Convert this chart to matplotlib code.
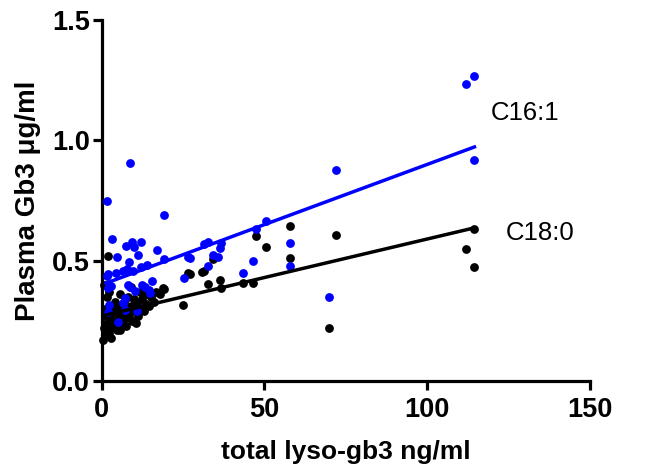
#!/usr/bin/env python3

from __future__ import annotations

import matplotlib

matplotlib.use("Agg")
import matplotlib.pyplot as plt
import numpy as np

# C16:1 (blue) - total lyso-gb3 (ng/ml) vs plasma Gb3 (ug/ml)
c16_x = [
    1.7, 8.7, 19.1, 3.1, 7.4, 9.4, 10.0, 12.1, 17.0, 4.8, 8.5, 11.1, 19.2, 26.4,
    2.0, 4.4, 6.6, 7.7, 9.6, 12.2, 13.8, 1.8, 3.0, 8.2, 8.6, 10.1, 12.5, 13.3,
    14.6, 15.5, 25.2, 2.1, 6.4, 7.1, 7.2, 1.9, 10.9, 5.1, 14.8, 1.7,
    27.1, 31.3, 32.8, 32.5, 34.1, 35.8, 36.2, 36.6, 43.5, 46.6, 47.4, 50.5,
    57.7, 57.7, 69.8, 71.9, 111.9, 114.4, 114.5,
]
c16_y = [
    0.749, 0.907, 0.691, 0.591, 0.561, 0.579, 0.558, 0.576, 0.545, 0.514, 0.493, 0.523, 0.508, 0.514,
    0.443, 0.447, 0.455, 0.464, 0.455, 0.475, 0.480, 0.388, 0.395, 0.400, 0.392, 0.373, 0.399, 0.392,
    0.378, 0.414, 0.430, 0.316, 0.325, 0.344, 0.295, 0.286, 0.292, 0.246, 0.364, 0.436,
    0.512, 0.569, 0.579, 0.478, 0.523, 0.516, 0.551, 0.572, 0.447, 0.500, 0.630, 0.666,
    0.572, 0.478, 0.348, 0.877, 1.233, 1.267, 0.918,
]

# C18:0 (black)
c18_x = [
    111.9, 114.4, 114.5, 71.9, 69.8, 57.7, 57.7, 50.5, 47.4, 46.6, 43.5, 36.6,
    36.2, 34.1, 32.8, 31.3, 30.9, 27.1, 26.5, 25.1, 19.2, 18.9, 2.0, 11.7,
    0.5, 1.0, 1.3, 1.6, 2.0, 2.2, 2.5, 3.0, 3.3, 3.6, 4.0, 4.3, 4.8, 5.2,
    5.6, 6.0, 6.3, 6.8, 7.0, 7.5, 7.8, 8.2, 8.5, 9.0, 9.4, 9.8, 10.3, 10.8,
    11.2, 12.0, 12.5, 13.0, 13.5, 14.0, 14.5, 15.2, 16.0, 16.8, 1.0, 1.5,
    0.8, 2.3, 5.5, 9.0, 17.8, 4.0, 6.5, 10.5, 0.6, 3.0, 1.2,
]
c18_y = [
    0.550, 0.632, 0.475, 0.607, 0.221, 0.644, 0.512, 0.555, 0.602, 0.406, 0.406, 0.385,
    0.420, 0.507, 0.402, 0.457, 0.452, 0.443, 0.447, 0.316, 0.381, 0.385, 0.520, 0.371,
    0.17, 0.19, 0.21, 0.24, 0.26, 0.20, 0.22, 0.28, 0.23, 0.295, 0.25, 0.31, 0.21, 0.27,
    0.21, 0.30, 0.24, 0.33, 0.26, 0.23, 0.29, 0.35, 0.27, 0.31, 0.25, 0.34, 0.29, 0.32,
    0.27, 0.30, 0.34, 0.29, 0.32, 0.36, 0.31, 0.35, 0.33, 0.37, 0.30, 0.35,
    0.40, 0.37, 0.36, 0.39, 0.36, 0.33, 0.28, 0.24, 0.22, 0.18, 0.27,
]

# linear fits as drawn in the figure
fit_x_range = [1.3, 114.5]
c16_slope, c16_intercept = 0.0050, 0.400
c18_slope, c18_intercept = 0.0032, 0.270

x_ticks = [0, 50, 100, 150]
y_ticks = [0.0, 0.5, 1.0, 1.5]
y_tick_labels = ["0.0", "0.5", "1.0", "1.5"]

BLUE = "#0000ff"
BLACK = "#000000"


def main() -> None:
    plt.rcParams["font.family"] = ["Liberation Sans", "DejaVu Sans"]

    fig = plt.figure(figsize=(6.71, 4.72), dpi=100)
    ax = fig.add_axes([0.1516, 0.1928, 0.7277, 0.7648])

    ax.scatter(c18_x, c18_y, s=40, color=BLACK, linewidths=0, zorder=3, clip_on=False)
    ax.scatter(c16_x, c16_y, s=40, color=BLUE, linewidths=0, zorder=3, clip_on=False)

    xs = np.array(fit_x_range)
    ax.plot(xs, c16_intercept + c16_slope * xs, color=BLUE, lw=2.5, zorder=4)
    ax.plot(xs, c18_intercept + c18_slope * xs, color=BLACK, lw=2.5, zorder=4)

    ax.text(119.4, 1.115, "C16:1", fontsize=18.5, va="center", ha="left")
    ax.text(124.0, 0.616, "C18:0", fontsize=18.5, va="center", ha="left")

    ax.set_xlim(0, 150)
    ax.set_ylim(0, 1.5)
    ax.set_xticks(x_ticks)
    ax.set_yticks(y_ticks)
    ax.set_yticklabels(y_tick_labels)

    for side in ("top", "right"):
        ax.spines[side].set_visible(False)
    for side in ("left", "bottom"):
        ax.spines[side].set_linewidth(2.3)

    ax.tick_params(axis="both", direction="out", length=6.5, width=2.3, labelsize=19.5)
    ax.tick_params(axis="x", pad=5)
    ax.tick_params(axis="y", pad=2)
    for label in ax.get_xticklabels() + ax.get_yticklabels():
        label.set_fontweight("bold")

    ax.set_xlabel("total lyso-gb3 ng/ml", fontsize=19, fontweight="bold", labelpad=12)
    ax.set_ylabel("Plasma Gb3 μg/ml", fontsize=20, fontweight="bold", labelpad=8)

    fig.savefig("out.png", dpi=100)
    plt.close(fig)


if __name__ == "__main__":
    main()
